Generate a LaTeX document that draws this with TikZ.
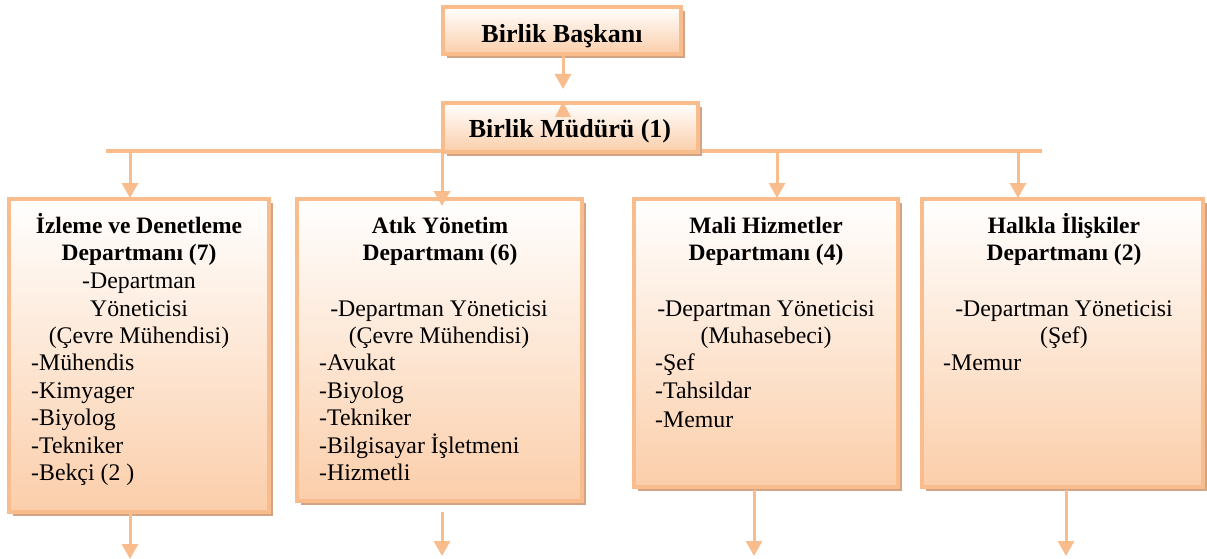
\documentclass[tikz,border=0pt]{standalone}
\usepackage{fontspec}
\setmainfont{Liberation Serif}
\usetikzlibrary{arrows.meta,shadows}
\definecolor{peachline}{HTML}{F9BC8C}
\definecolor{peachfill}{HTML}{FBCEAA}
\definecolor{shadowcol}{HTML}{D2A483}
\tikzset{
  box/.style={draw=peachline, line width=3.2pt, top color=white, bottom color=peachfill,
    drop shadow={shadow xshift=4pt, shadow yshift=-4pt, fill=shadowcol, opacity=1}},
  conn/.style={draw=peachline, line width=3pt},
  arr/.style={conn, -{Triangle[width=16pt,length=15pt]}},
  ttl/.style={anchor=base, font=\fontsize{26}{30}\selectfont\bfseries, inner sep=0pt},
  hd/.style={anchor=base, font=\fontsize{23.5}{28}\selectfont\bfseries, inner sep=0pt},
  ctr/.style={anchor=base, font=\fontsize{23.8}{28}\selectfont, inner sep=0pt},
  lft/.style={anchor=base west, font=\fontsize{23.8}{28}\selectfont, inner sep=0pt},
}
\begin{document}
\begin{tikzpicture}[x=1pt,y=-1pt]
\useasboundingbox (0,0) rectangle (1207,559);
% connectors behind boxes
\coordinate (hl) at (106,151);
\coordinate (hr) at (1042,151);
\draw[conn] (hl) -- (hr);
% top boxes
\path[box] (443,7) rectangle (681,54);
\node[ttl] (bb) at (562,43) {Birlik Başkanı};
\path[box] (443,103) rectangle (698,152);
\node[ttl] (bm) at (570,138) {Birlik Müdürü (1)};
\coordinate (bbs) at (563,56);
\coordinate (bmn) at (563,89);
\draw[arr] (bbs) -- (bmn);
\coordinate (ua) at (563,118);
\coordinate (ub) at (563,102);
\draw[arr, line width=0pt] (ua) -- (ub);
% department boxes
\path[box] (9,199) rectangle (269,512);
\path[box] (297,199) rectangle (582,501);
\path[box] (634,199) rectangle (898,487);
\path[box] (922,199) rectangle (1203,487);
% drops
\coordinate (t1) at (130,151); \coordinate (e1) at (130,198);
\coordinate (t2) at (442,151); \coordinate (e2) at (442,206);
\coordinate (t3) at (777,151); \coordinate (e3) at (777,198);
\coordinate (t4) at (1018,151); \coordinate (e4) at (1018,198);
\draw[arr] (t1) -- (e1);
\draw[arr] (t2) -- (e2);
\draw[arr] (t3) -- (e3);
\draw[arr] (t4) -- (e4);
% bottom arrows
\coordinate (s1) at (130,514); \coordinate (f1) at (130,559);
\coordinate (s2) at (442,512); \coordinate (f2) at (442,556);
\coordinate (s3) at (754,490); \coordinate (f3) at (754,556);
\coordinate (s4) at (1066,490); \coordinate (f4) at (1066,556);
\draw[arr] (s1) -- (f1);
\draw[arr] (s2) -- (f2);
\draw[arr] (s3) -- (f3);
\draw[arr] (s4) -- (f4);
% box 1 text
\node[hd] (a1) at (139,233) {İzleme ve Denetleme};
\node[hd] (a2) at (139,260) {Departmanı (7)};
\node[ctr] (a3) at (139,288) {-Departman};
\node[ctr] (a4) at (139,316) {Yöneticisi};
\node[ctr] (a5) at (139,343) {(Çevre Mühendisi)};
\node[lft] (a6) at (31,370) {-Mühendis};
\node[lft] (a7) at (31,398) {-Kimyager};
\node[lft] (a8) at (31,425) {-Biyolog};
\node[lft] (a9) at (31,453) {-Tekniker};
\node[lft] (a10) at (31,480) {-Bekçi (2 )};
% box 2 text
\node[hd] (b1) at (440,233) {Atık Yönetim};
\node[hd] (b2) at (440,260) {Departmanı (6)};
\node[ctr] (b3) at (439,316) {-Departman Yöneticisi};
\node[ctr] (b4) at (439,343) {(Çevre Mühendisi)};
\node[lft] (b5) at (319,370) {-Avukat};
\node[lft] (b6) at (319,398) {-Biyolog};
\node[lft] (b7) at (319,425) {-Tekniker};
\node[lft] (b8) at (319,453) {-Bilgisayar İşletmeni};
\node[lft] (b9) at (319,480) {-Hizmetli};
% box 3 text
\node[hd] (c1) at (766,233) {Mali Hizmetler};
\node[hd] (c2) at (766,260) {Departmanı (4)};
\node[ctr] (c3) at (766,316) {-Departman Yöneticisi};
\node[ctr] (c4) at (766,343) {(Muhasebeci)};
\node[lft] (c5) at (655,370) {-Şef};
\node[lft] (c6) at (655,398) {-Tahsildar};
\node[lft] (c7) at (655,427) {-Memur};
% box 4 text
\node[hd] (d1) at (1064,233) {Halkla İlişkiler};
\node[hd] (d2) at (1064,260) {Departmanı (2)};
\node[ctr] (d3) at (1064,316) {-Departman Yöneticisi};
\node[ctr] (d4) at (1064,343) {(Şef)};
\node[lft] (d5) at (943,370) {-Memur};
\end{tikzpicture}
\end{document}
